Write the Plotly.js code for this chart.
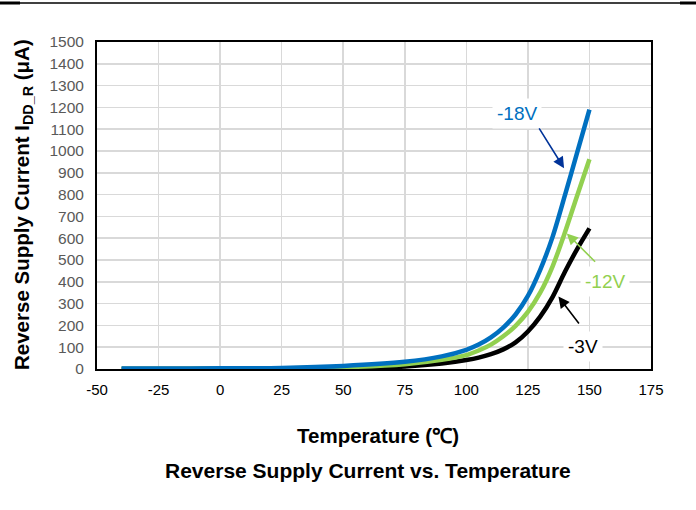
<!DOCTYPE html>
<html>
<head>
<meta charset="utf-8">
<script src="https://cdn.plot.ly/plotly-3.0.1.min.js"></script>
<style>
  html, body { margin: 0; padding: 0; background: #fff; }
  #chart { width: 696px; height: 510px; }
</style>
</head>
<body>
<div id="chart"></div>
<script>
// Data
const temps = [-40, -25, 0, 25, 50, 75, 90, 100, 105, 110, 115, 120, 125, 130, 135, 140, 145, 150];
const iddV18 = [2, 2, 3, 5, 14, 33, 58, 88, 112, 145, 190, 250, 335, 455, 605, 795, 992, 1190];
const iddV12 = [1, 1, 2, 3, 8, 22, 42, 64, 85, 112, 150, 198, 262, 350, 470, 625, 795, 962];
const iddV3  = [0, 0, 1, 2, 4, 12, 25, 41, 52, 68, 90, 122, 172, 240, 330, 445, 550, 645];
const seriesNames = ['-3V', '-12V', '-18V'];
const xTicks = [-50, -25, 0, 25, 50, 75, 100, 125, 150, 175];
const yTicks = [0, 100, 200, 300, 400, 500, 600, 700, 800, 900, 1000, 1100, 1200, 1300, 1400, 1500];

const FONT = 'Arial, "Liberation Sans", sans-serif';

function line(y, name, color) {
  return {
    x: temps, y: y, name: name, type: 'scatter', mode: 'lines',
    line: { color: color, width: 4.5, shape: 'spline', smoothing: 0.8 },
    hoverinfo: 'skip'
  };
}

const data = [
  line(iddV3, seriesNames[0], '#000000'),
  line(iddV12, seriesNames[1], '#92D050'),
  line(iddV18, seriesNames[2], '#0070C0')
];

// Plot area geometry in pixels (for placing paper-referenced decorations)
const L = 97, T = 42, W = 554, H = 327;
const px = (x) => (x - L) / W;
const py = (y) => (T + H - y) / H;

function arrow(x, y, ax, ay, color) {
  return {
    x: x, y: y, ax: ax, ay: ay, xref: 'x', yref: 'y', axref: 'x', ayref: 'y',
    text: '', showarrow: true, arrowhead: 2, arrowsize: 1.4, arrowwidth: 1.6,
    arrowcolor: color, standoff: 0, startstandoff: 0
  };
}
function label(x, y, text, color) {
  return {
    x: x, y: y, xref: 'x', yref: 'y', text: text, showarrow: false,
    font: { family: FONT, size: 19, color: color },
    bgcolor: '#ffffff', borderpad: 4, xanchor: 'center', yanchor: 'middle'
  };
}

const layout = {
  width: 696, height: 510,
  margin: { l: L, r: 696 - L - W, t: T, b: 510 - T - H },
  paper_bgcolor: '#ffffff', plot_bgcolor: '#ffffff',
  showlegend: false,
  font: { family: FONT, size: 15, color: '#595959' },
  xaxis: {
    range: [-50, 175], tickvals: xTicks, ticktext: xTicks.map(String),
    showgrid: true, gridcolor: '#D9D9D9', gridwidth: 1.5,
    zeroline: false, showline: true, linecolor: '#000000', linewidth: 2, mirror: true,
    ticks: '', ticklabelstandoff: 6, tickfont: { family: FONT, size: 15, color: '#000000' }
  },
  yaxis: {
    range: [0, 1500], tickvals: yTicks, ticktext: yTicks.map(String),
    showgrid: true, gridcolor: '#D9D9D9', gridwidth: 1.5,
    zeroline: false, showline: true, linecolor: '#000000', linewidth: 2, mirror: true,
    ticks: '', ticklabelstandoff: 8, tickfont: { family: FONT, size: 15.5, color: '#595959' }
  },
  annotations: [
    label(120.6, 1174, '-18V', '#0070C0'),
    label(156.3, 400, '-12V', '#92D050'),
    label(147.5, 102, '-3V', '#000000'),
    arrow(139.7, 921, 129.2, 1111, '#003399'),
    arrow(140.8, 622, 152.9, 485, '#92D050'),
    arrow(137.4, 332, 146.2, 202, '#000000'),
    {
      xref: 'paper', yref: 'paper', x: px(23), y: py(205), textangle: -90,
      text: '<b>Reverse Supply Current I<sub>DD_R</sub> (μA)</b>', showarrow: false,
      font: { family: FONT, size: 20.5, color: '#000000' }, xanchor: 'center', yanchor: 'middle'
    },
    {
      xref: 'paper', yref: 'paper', x: px(378), y: py(435),
      text: '<b>Temperature (℃)</b>', showarrow: false,
      font: { family: FONT, size: 20.5, color: '#000000' }, xanchor: 'center', yanchor: 'middle'
    },
    {
      xref: 'paper', yref: 'paper', x: px(368), y: py(471),
      text: '<b>Reverse Supply Current vs. Temperature</b>', showarrow: false,
      font: { family: FONT, size: 21, color: '#000000' }, xanchor: 'center', yanchor: 'middle'
    }
  ],
  shapes: [
    { type: 'line', xref: 'paper', yref: 'paper', x0: px(0), x1: px(696), y0: py(3), y1: py(3),
      line: { color: '#000000', width: 1.3 } },
    { type: 'line', xref: 'paper', yref: 'paper', x0: px(0), x1: px(20), y0: py(3), y1: py(3),
      line: { color: '#000000', width: 3 } },
    { type: 'line', xref: 'paper', yref: 'paper', x0: px(680), x1: px(696), y0: py(3), y1: py(3),
      line: { color: '#000000', width: 3 } }
  ]
};

Plotly.newPlot('chart', data, layout, { displayModeBar: false, staticPlot: true });
</script>
</body>
</html>
